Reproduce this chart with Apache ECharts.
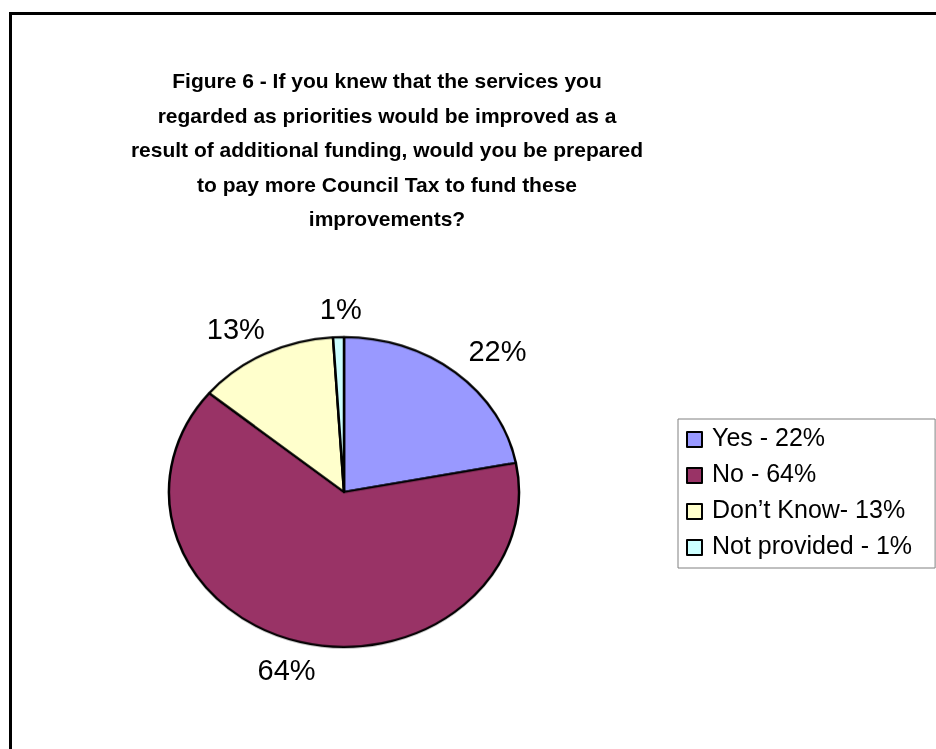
<!DOCTYPE html>
<html>
<head>
<meta charset="utf-8">
<script src="https://cdn.jsdelivr.net/npm/echarts@6/dist/echarts.min.js"></script>
<style>
  html, body { margin: 0; padding: 0; background: #fff; }
  #stage { position: relative; width: 936px; height: 749px; overflow: hidden; background: #fff; }
  #frame { position: absolute; left: 9px; top: 12px; width: 960px; height: 780px; border: 3px solid #000; box-sizing: border-box; }
  #main, #slices { position: absolute; left: 0; top: 0; width: 936px; height: 749px; }
  #slices { pointer-events: none; }
</style>
</head>
<body>
<div id="stage">
  <div id="frame"></div>
  <div id="main"></div>
  <div id="slices"></div>
</div>
<script>
// Survey answers (percent of respondents)
const categories = ['Yes - 22%', 'No - 64%', 'Don\u2019t Know- 13%', 'Not provided - 1%'];
const values = [22, 64, 13, 1];
const colors = ['#9999FF', '#993366', '#FFFFCC', '#CCFFFF'];

const titleText = 'Figure 6 - If you knew that the services you\nregarded as priorities would be improved as a\nresult of additional funding, would you be prepared\nto pay more Council Tax to fund these\nimprovements?';

const FONT = '"Liberation Sans", Arial, Helvetica, sans-serif';
const CX = 344, CY = 492;      // pie centre
const RX = 175, RY = 155;      // horizontal / vertical radii of the flattened pie

const seriesData = categories.map((name, i) => ({ name, value: values[i], itemStyle: { color: colors[i] } }));

// mid angle (radians, clockwise from 12 o'clock) of each slice
const total = values.reduce((a, b) => a + b, 0);
const midAngles = [];
let acc = 0;
values.forEach(v => { midAngles.push((acc + v / 2) / total * Math.PI * 2); acc += v; });

// Main layer: title, legend and percentage labels
const main = echarts.init(document.getElementById('main'));
main.setOption({
  animation: false,
  title: {
    text: titleText,
    left: 382,
    top: 60,
    textAlign: 'center',
    textStyle: { fontFamily: FONT, fontSize: 21, fontWeight: 'bold', color: '#000', lineHeight: 34.5 }
  },
  legend: {
    orient: 'vertical',
    left: 678,
    top: 419,
    padding: [8, 23, 8, 8],
    itemWidth: 15,
    itemHeight: 15,
    itemGap: 11,
    icon: 'rect',
    borderColor: '#808080',
    borderWidth: 1,
    itemStyle: { borderColor: '#000', borderWidth: 2 },
    textStyle: { fontFamily: FONT, fontSize: 25, color: '#000', padding: [0, 0, 0, 5] },
    data: categories
  },
  series: [{
    type: 'pie',
    center: [CX, CY],
    radius: 2,
    startAngle: 90,
    clockwise: true,
    avoidLabelOverlap: false,
    silent: true,
    itemStyle: { borderColor: '#000', borderWidth: 0 },
    label: {
      show: true,
      position: 'outside',
      formatter: '{c}%',
      fontFamily: FONT,
      fontSize: 29,
      color: '#000'
    },
    labelLine: { show: false },
    labelLayout: function (p) {
      const a = midAngles[p.dataIndex];
      const s = Math.sin(a), c = Math.cos(a);
      const w = p.labelRect.width, h = p.labelRect.height;
      const g = 14;
      const dx = (RX + g) * s + Math.sign(s) * Math.min(1, Math.abs(s) * 2) * w / 2;
      const dy = -(RY + g) * c - c * h / 2;
      return { x: CX + dx + 4, y: CY + dy + 2, align: 'center', verticalAlign: 'middle' };
    },
    data: seriesData
  }]
});

// Slice layer: the pie itself, squashed vertically into an ellipse
const slicesEl = document.getElementById('slices');
slicesEl.style.transformOrigin = CX + 'px ' + CY + 'px';
slicesEl.style.transform = 'scaleY(' + (RY / RX) + ')';
const slices = echarts.init(slicesEl, null, { renderer: 'svg' });
slices.setOption({
  animation: false,
  series: [{
    type: 'pie',
    center: [CX, CY],
    radius: RX,
    startAngle: 90,
    clockwise: true,
    silent: true,
    label: { show: false },
    labelLine: { show: false },
    itemStyle: { borderColor: '#000', borderWidth: 2.5 },
    data: seriesData
  }]
});
</script>
</body>
</html>
